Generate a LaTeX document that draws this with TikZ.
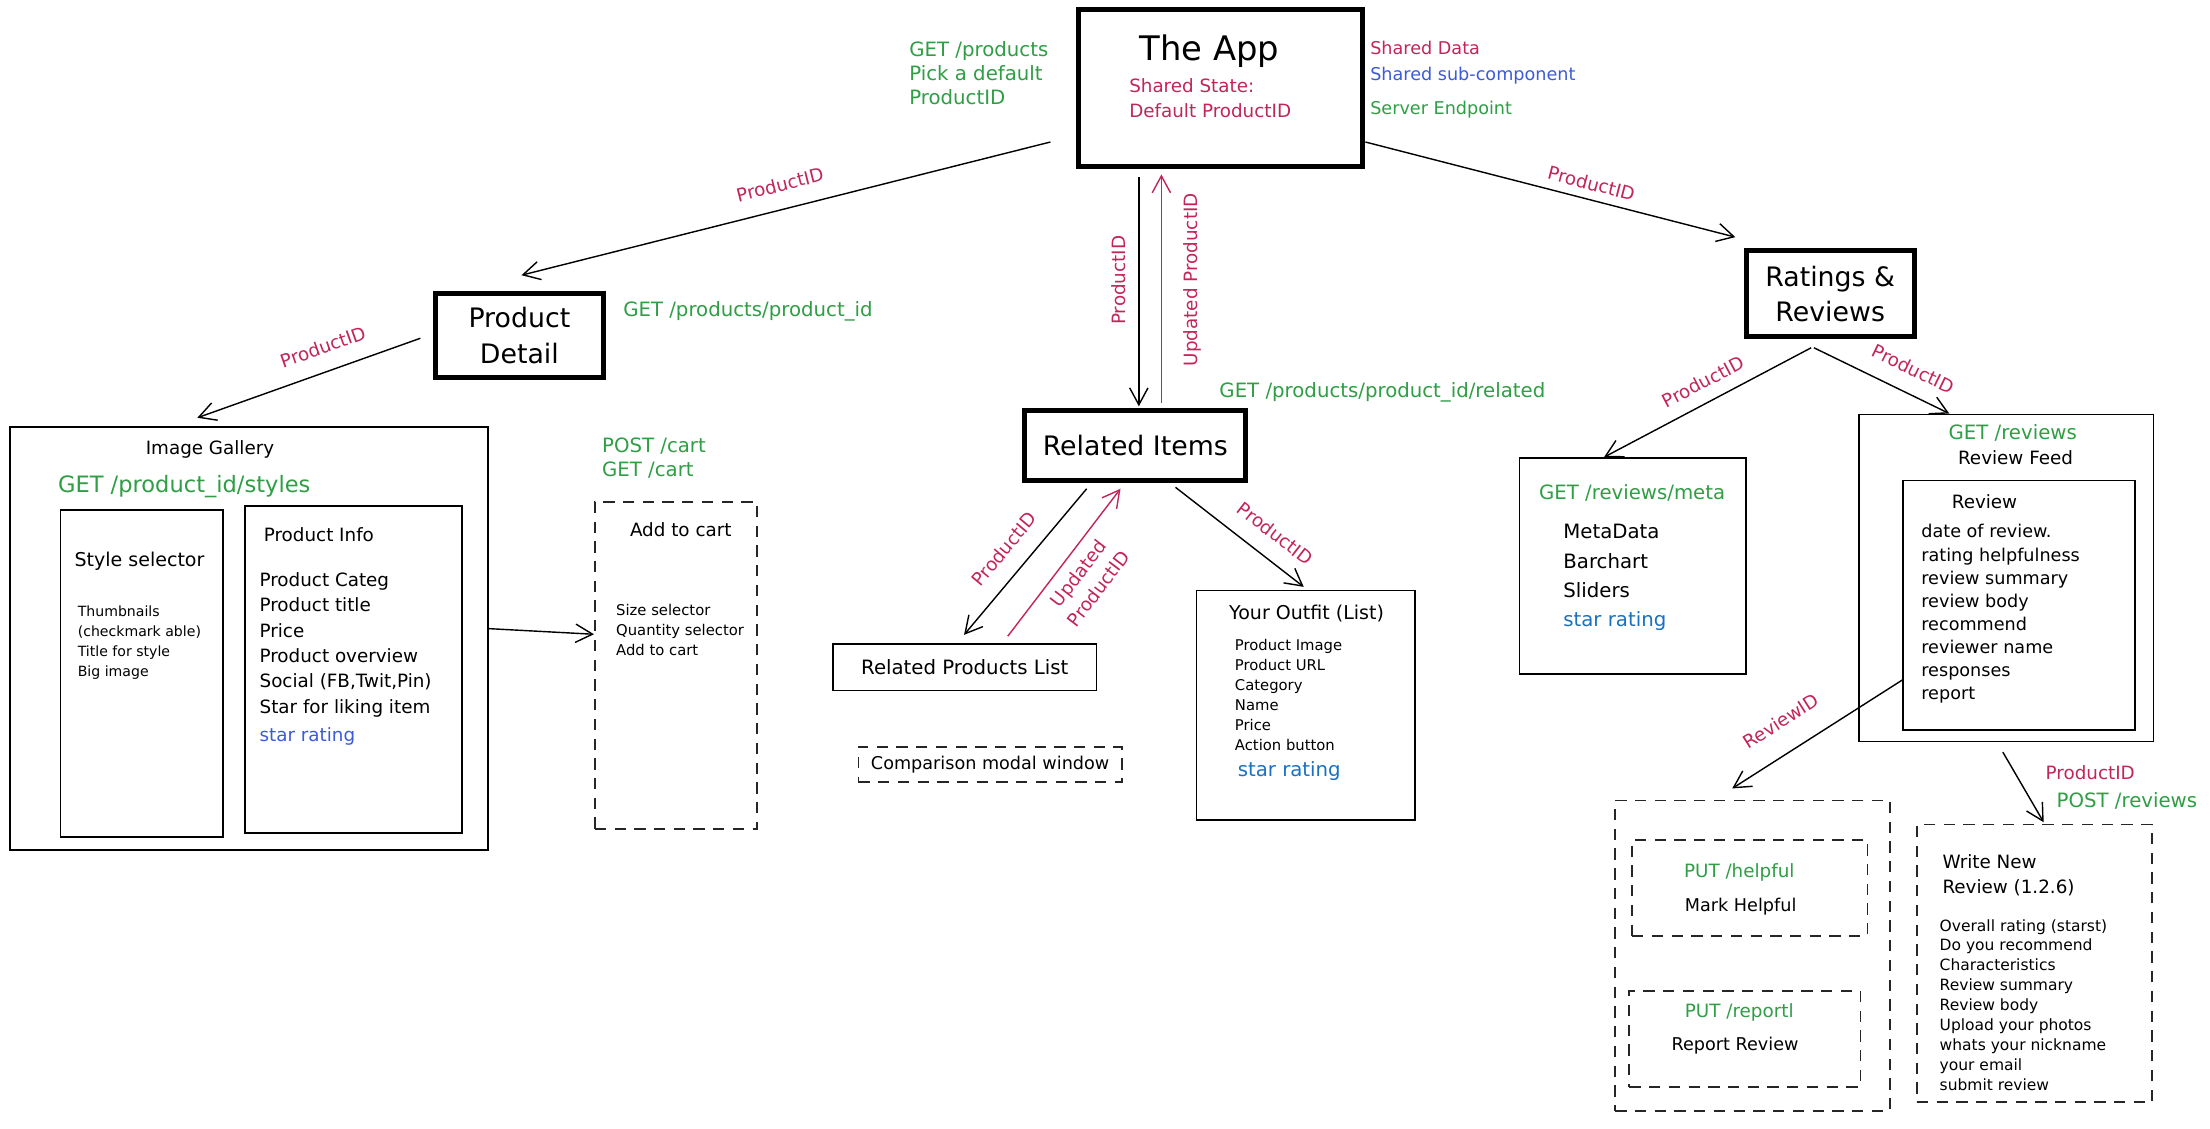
\documentclass[tikz,border=0pt]{standalone}
\usepackage{fontspec}
\setmainfont{DejaVu Sans}
\usetikzlibrary{arrows.meta, calc}
\usepackage{xcolor}

\definecolor{apigreen}{HTML}{2F9E44}
\definecolor{idred}{HTML}{C2255C}
\definecolor{subblue}{HTML}{3B5BDB}
\definecolor{starblue}{HTML}{1971C2}

\newcommand{\fbig}{\fontsize{24}{29}\selectfont}
\newcommand{\ftitle}{\fontsize{19}{25}\selectfont}
\newcommand{\fapi}{\fontsize{14}{17}\selectfont}
\newcommand{\fnorm}{\fontsize{13}{18}\selectfont}
\newcommand{\fitem}{\fontsize{12.5}{16.4}\selectfont}
\newcommand{\fsmall}{\fontsize{10.5}{14.2}\selectfont}

\tikzset{
  bigbox/.style={draw=black, line width=3.5pt, inner sep=0pt},
  thinbox/.style={draw=black, line width=1.2pt, inner sep=0pt},
  dashbox/.style={draw=black!85, line width=1.2pt, dash pattern=on 8pt off 6pt, inner sep=0pt},
  flow/.style={draw=black, line width=1pt, -{Straight Barb[length=12pt, width=13pt, line width=1pt]}},
  backflow/.style={flow, draw=idred},
  idlabel/.style={text=idred, font=\fnorm, inner sep=1pt},
  api/.style={text=apigreen, font=\fapi, inner sep=0pt},
  plain/.style={font=\fnorm, inner sep=0pt},
  itemlist/.style={font=\fsmall, inner sep=0pt, align=left, anchor=north west}
}

\begin{document}
\begin{tikzpicture}[x=1pt, y=-1pt]

\fill[white] (0,0) rectangle (1568,801);
\useasboundingbox (0,0) rectangle (1568,801);

% -------- The App --------
\node[bigbox, minimum width=202pt, minimum height=111pt] (app) at (866,62.5) {};
\node[font=\fbig, inner sep=0pt] (apptitle) at (858,36) {The App};
\node[plain, text=idred, align=left, anchor=north west] (appstate) at (801,55.5) {Shared State:\\Default ProductID};
\node[api, align=left, anchor=north west] (appapi) at (645,29) {GET /products\\Pick a default\\ProductID};

% -------- Legend --------
\node[plain, font=\fontsize{12.5}{16}\selectfont, text=idred, anchor=west] (legdata) at (972,34) {Shared Data};
\node[plain, font=\fontsize{12.5}{16}\selectfont, text=subblue, anchor=west] (legsub) at (972,54) {Shared sub-component};
\node[plain, font=\fontsize{12.5}{16}\selectfont, text=apigreen, anchor=west] (legapi) at (972,78) {Server Endpoint};

% -------- Main components --------
\node[bigbox, minimum width=119pt, minimum height=60pt, font=\ftitle, align=center] (detail) at (368.5,238) {Product\\Detail};
\node[api, anchor=west] (detailapi) at (442,221) {GET /products/product\_id};

\node[bigbox, minimum width=157pt, minimum height=50pt, font=\ftitle] (related) at (805.5,316) {Related Items};
\node[api, anchor=west] (relatedapi) at (865,278) {GET /products/product\_id/related};

\node[bigbox, minimum width=119pt, minimum height=61pt, font=\ftitle, align=center] (ratings) at (1298.5,208.5) {Ratings \&\\Reviews};

% -------- Product detail parts --------
\node[thinbox, minimum width=339pt, minimum height=300pt] (gallery) at (176.5,453) {};
\node[plain] (gallerytitle) at (149,319) {Image Gallery};
\node[api, font=\fontsize{16}{20}\selectfont, anchor=west] (galleryapi) at (41,345) {GET /product\_id/styles};

\node[thinbox, minimum width=115pt, minimum height=232pt] (styles) at (100.5,478) {};
\node[plain, font=\fontsize{13.5}{18}\selectfont] (stylestitle) at (99,398) {Style selector};
\node[itemlist, font=\fontsize{10}{14.3}\selectfont] (styleitems) at (55,429.5) {Thumbnails\\(checkmark able)\\Title for style\\Big image};

\node[thinbox, minimum width=154pt, minimum height=232pt] (info) at (251,475) {};
\node[plain, anchor=west] (infotitle) at (187,379) {Product Info};
\node[itemlist, font=\fnorm] (infoitems) at (184,406) {Product Categ\\Product title\\Price\\Product overview\\Social (FB,Twit,Pin)\\Star for liking item\\[2pt]{\color{subblue}star rating}};

\node[dashbox, minimum width=115pt, minimum height=232pt] (cart) at (479.5,472) {};
\node[plain] (carttitle) at (483,376) {Add to cart};
\node[itemlist] (cartitems) at (437,428.5) {Size selector\\Quantity selector\\Add to cart};
\node[api, align=left, anchor=north west] (cartapi) at (427,310.5) {POST /cart\\GET /cart};

% -------- Related items parts --------
\node[thinbox, minimum width=187pt, minimum height=33pt, font=\fontsize{14}{18}\selectfont] (rplist) at (684.5,473.5) {Related Products List};
\node[dashbox, minimum width=187pt, minimum height=25pt, font=\fontsize{12.5}{16}\selectfont] (compare) at (702.5,542.5) {Comparison modal window};

\node[thinbox, minimum width=155pt, minimum height=163pt] (outfit) at (926.5,500.5) {};
\node[plain, font=\fontsize{13.5}{18}\selectfont] (outfittitle) at (927,435) {Your Outfit (List)};
\node[itemlist] (outfititems) at (876,453.5) {Product Image\\Product URL\\Category\\Name\\Price\\Action button};
\node[plain, font=\fontsize{14}{18}\selectfont, text=starblue, anchor=west] (outfitstar) at (878,547) {star rating};

% -------- Ratings and reviews parts --------
\node[thinbox, minimum width=161pt, minimum height=153pt] (meta) at (1158.5,401.5) {};
\node[api] (metaapi) at (1158,350) {GET /reviews/meta};
\node[itemlist, font=\fontsize{14}{20.8}\selectfont] (metaitems) at (1109,372) {MetaData\\Barchart\\Sliders\\{\color{starblue}star rating}};

\node[thinbox, minimum width=209pt, minimum height=232pt] (feed) at (1423.5,410) {};
\node[api] (feedapi) at (1428,307) {GET /reviews};
\node[plain] (feedtitle) at (1430,325) {Review Feed};
\node[thinbox, minimum width=165pt, minimum height=177pt] (review) at (1432.5,429.5) {};
\node[plain] (reviewtitle) at (1408,356) {Review};
\node[itemlist, font=\fitem] (reviewitems) at (1363,372) {date of review.\\rating helpfulness\\review summary\\review body\\recommend\\reviewer name\\responses\\report};

\node[dashbox, minimum width=195pt, minimum height=220pt] (actions) at (1243.5,678) {};
\node[dashbox, minimum width=167pt, minimum height=68pt] (helpful) at (1241.5,630) {};
\node[api, font=\fontsize{13}{17}\selectfont] (helpfulapi) at (1234,619) {PUT /helpful};
\node[plain, font=\fontsize{12.5}{16}\selectfont] (helpfultitle) at (1235,643) {Mark Helpful};
\node[dashbox, minimum width=164pt, minimum height=68pt] (report) at (1238,737) {};
\node[api, font=\fontsize{13}{17}\selectfont] (reportapi) at (1234,718) {PUT /reportl};
\node[plain, font=\fontsize{12.5}{16}\selectfont] (reporttitle) at (1231,742) {Report Review};

\node[dashbox, minimum width=167pt, minimum height=197pt] (write) at (1443.5,683.5) {};
\node[plain, align=left, anchor=north west] (writetitle) at (1378,606) {Write New\\Review (1.2.6)};
\node[itemlist, font=\fontsize{11}{14.1}\selectfont] (writeitems) at (1376,652) {Overall rating (starst)\\Do you recommend\\Characteristics\\Review summary\\Review body\\Upload your photos\\whats your nickname\\your email\\submit review};
\node[idlabel, inner sep=0pt] (writeid) at (1483,548) {ProductID};
\node[api, anchor=west] (writeapi) at (1459,568) {POST /reviews};

% -------- Connectors --------
\draw[flow] ($(app.south west)+(-18,-19)$) -- ($(detail.north)+(1.5,-11)$)
  node[idlabel, sloped, above=11pt, pos=.5] {ProductID};
\draw[flow] ($(app.south east)+(0,-19)$) -- ($(ratings.north west)+(-6,-8)$)
  node[idlabel, sloped, above=5pt, pos=.6] {ProductID};
\draw[flow] ($(app.south)+(-58,6)$) -- ($(related.north)+(2.5,-1)$)
  node[idlabel, rotate=90, anchor=south, inner ysep=9pt, pos=.45] {ProductID};
\draw[backflow] ($(related.north)+(18.5,-3)$) -- ($(app.south)+(-42,4)$)
  node[idlabel, rotate=90, anchor=north, inner ysep=15pt, pos=.54] {Updated ProductID};

\draw[flow] ($(detail.west)+(-9,2)$) -- ($(gallery.north)+(-36.5,-6)$)
  node[idlabel, sloped, above=11pt, pos=.4] {ProductID};
\draw[flow] ($(gallery.east)+(0,-7)$) -- ($(cart.west)+(0,-22)$);

\draw[flow] ($(related.south)+(-34.5,4)$) -- ($(rplist.north)+(-0.5,-6)$)
  node[idlabel, sloped, above=11pt, pos=.52] {ProductID};
\draw[backflow] ($(rplist.north)+(30.5,-5)$) -- ($(related.south)+(-10.5,4)$)
  node[idlabel, sloped, below=6pt, pos=.5, align=center] {Updated\\ProductID};
\draw[flow] ($(related.south)+(28.5,3)$) -- ($(outfit.north)+(-1.5,-2)$)
  node[idlabel, sloped, above=11pt, pos=.66] {ProductID};

\draw[flow] ($(ratings.south)+(-13.5,6)$) -- ($(meta.north)+(-20.5,0)$)
  node[idlabel, sloped, above=8pt, pos=.475] {ProductID};
\draw[flow] ($(ratings.south)+(-11.5,6)$) -- ($(feed.north)+(-40.5,0)$)
  node[idlabel, sloped, above=11pt, pos=.655] {ProductID};
\draw[flow] ($(review.west)+(1,52.5)$) -- ($(actions.north)+(-14.5,-8)$)
  node[idlabel, sloped, above=15pt, pos=.62] {ReviewID};
\draw[flow] ($(feed.south)+(-2.5,7)$) -- ($(write.north)+(6.5,-1)$);

\end{tikzpicture}
\end{document}
